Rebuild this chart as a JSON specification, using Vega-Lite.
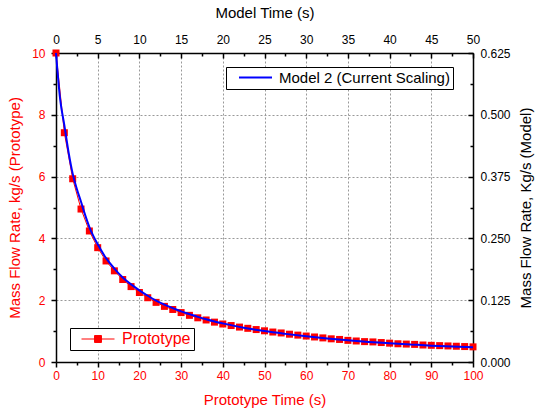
{
  "$schema": "https://vega.github.io/schema/vega-lite/v6.json",
  "width": 417,
  "height": 309,
  "autosize": {"type": "none"},
  "padding": {"left": 56, "top": 53, "right": 63, "bottom": 52},
  "config": {
    "font": "Liberation Sans",
    "view": {"stroke": null},
    "axis": {"labelFlush": false, "labelOverlap": false, "labelFontSize": 12, "titleFontSize": 15, "titleFontWeight": "normal", "domainColor": "#000000", "domainWidth": 1.5, "tickColor": "#000000", "tickWidth": 1.5}
  },
  "datasets": {
    "proto": [
      {"t": 0, "v": 10.0}, {"t": 2, "v": 7.42}, {"t": 4, "v": 5.93}, {"t": 6, "v": 4.95}, {"t": 8, "v": 4.24},
      {"t": 10, "v": 3.70}, {"t": 12, "v": 3.27}, {"t": 14, "v": 2.95}, {"t": 16, "v": 2.67}, {"t": 18, "v": 2.44},
      {"t": 20, "v": 2.25}, {"t": 22, "v": 2.08}, {"t": 24, "v": 1.93}, {"t": 26, "v": 1.80}, {"t": 28, "v": 1.70},
      {"t": 30, "v": 1.60}, {"t": 32, "v": 1.51}, {"t": 34, "v": 1.43}, {"t": 36, "v": 1.36}, {"t": 38, "v": 1.29},
      {"t": 40, "v": 1.23}, {"t": 42, "v": 1.18}, {"t": 44, "v": 1.13}, {"t": 46, "v": 1.09}, {"t": 48, "v": 1.05},
      {"t": 50, "v": 1.01}, {"t": 52, "v": 0.97}, {"t": 54, "v": 0.94}, {"t": 56, "v": 0.90}, {"t": 58, "v": 0.87},
      {"t": 60, "v": 0.84}, {"t": 62, "v": 0.81}, {"t": 64, "v": 0.78}, {"t": 66, "v": 0.75}, {"t": 68, "v": 0.73},
      {"t": 70, "v": 0.70}, {"t": 72, "v": 0.68}, {"t": 74, "v": 0.66}, {"t": 76, "v": 0.65}, {"t": 78, "v": 0.63},
      {"t": 80, "v": 0.61}, {"t": 82, "v": 0.59}, {"t": 84, "v": 0.58}, {"t": 86, "v": 0.57}, {"t": 88, "v": 0.55},
      {"t": 90, "v": 0.54}, {"t": 92, "v": 0.53}, {"t": 94, "v": 0.52}, {"t": 96, "v": 0.51}, {"t": 98, "v": 0.50},
      {"t": 100, "v": 0.49}
    ],
    "model": [
      {"mt": 0, "mv": 0.625}, {"mt": 0.5, "mv": 0.531}, {"mt": 1, "mv": 0.479}, {"mt": 1.5, "mv": 0.425},
      {"mt": 2, "mv": 0.381}, {"mt": 2.5, "mv": 0.350}, {"mt": 3, "mv": 0.324}, {"mt": 3.5, "mv": 0.297},
      {"mt": 4, "mv": 0.273}, {"mt": 4.5, "mv": 0.254}, {"mt": 5, "mv": 0.238}, {"mt": 6, "mv": 0.210},
      {"mt": 7, "mv": 0.189}, {"mt": 8, "mv": 0.171}, {"mt": 9, "mv": 0.157}, {"mt": 10, "mv": 0.145},
      {"mt": 11, "mv": 0.134}, {"mt": 12, "mv": 0.124}, {"mt": 13, "mv": 0.116}, {"mt": 14, "mv": 0.109},
      {"mt": 15, "mv": 0.1025}, {"mt": 16, "mv": 0.0969}, {"mt": 17, "mv": 0.0913}, {"mt": 18, "mv": 0.0863},
      {"mt": 19, "mv": 0.0819}, {"mt": 20, "mv": 0.0781}, {"mt": 22.5, "mv": 0.0694}, {"mt": 25, "mv": 0.0625},
      {"mt": 27.5, "mv": 0.0569}, {"mt": 30, "mv": 0.0519}, {"mt": 32.5, "mv": 0.0475}, {"mt": 35, "mv": 0.0438},
      {"mt": 37.5, "mv": 0.0406}, {"mt": 40, "mv": 0.0381}, {"mt": 42.5, "mv": 0.0356}, {"mt": 45, "mv": 0.0331},
      {"mt": 47.5, "mv": 0.0313}, {"mt": 50, "mv": 0.0300}
    ]
  },
  "layer": [
    {
      "data": {"name": "proto"},
      "encoding": {
        "x": {"field": "t", "type": "quantitative", "scale": {"domain": [0, 100], "nice": false},
          "axis": {"orient": "bottom", "title": "Prototype Time (s)", "titleColor": "#ff0000", "labelColor": "#ff0000", "values": [0,10,20,30,40,50,60,70,80,90,100], "ticks": false, "labelPadding": 8, "titlePadding": 11, "grid": true, "gridColor": "#999999", "gridDash": [2, 2], "gridWidth": 1}},
        "y": {"field": "v", "type": "quantitative", "scale": {"domain": [0, 10], "nice": false},
          "axis": {"orient": "left", "title": "Mass Flow Rate, kg/s (Prototype)", "titleColor": "#ff0000", "labelColor": "#ff0000", "values": [0,2,4,6,8,10], "ticks": false, "labelPadding": 11, "titlePadding": 9, "grid": true, "gridColor": "#999999", "gridDash": [2, 2], "gridWidth": 1}},
        "color": {"datum": "Prototype", "type": "nominal", "scale": {"domain": ["Prototype"], "range": ["#ff0000"]},
          "legend": {"orient": "none", "legendX": 14, "legendY": 275, "title": null, "padding": 3, "strokeColor": "#000000", "fillColor": "#ffffff", "cornerRadius": 0,
            "symbolType": "M-1,0H1M-0.21,-0.21H0.21V0.21H-0.21Z", "symbolSize": 1089, "symbolStrokeWidth": 1, "symbolOffset": 8, "clipHeight": 16,
            "labelFontSize": 16, "labelColor": "#ff0000", "labelOffset": 7, "labelLimit": 300,
            "encode": {"symbols": {"update": {"fill": {"value": "#ff0000"}, "stroke": {"value": "#ff0000"}, "strokeWidth": {"value": 1}, "opacity": {"value": 1}}}}}}
      },
      "layer": [
        {"mark": {"type": "line", "strokeWidth": 1}},
        {"mark": {"type": "point", "shape": "square", "filled": true, "size": 49, "opacity": 1}}
      ]
    },
    {
      "data": {"name": "model"},
      "mark": {"type": "line", "strokeWidth": 2, "interpolate": "monotone"},
      "encoding": {
        "x": {"field": "mt", "type": "quantitative", "scale": {"domain": [0, 50], "nice": false},
          "axis": {"orient": "top", "title": "Model Time (s)", "titleColor": "#000000", "labelColor": "#000000", "values": [0,5,10,15,20,25,30,35,40,45,50], "ticks": false, "labelPadding": 7, "titlePadding": 13, "grid": false}},
        "y": {"field": "mv", "type": "quantitative", "scale": {"domain": [0, 0.625], "nice": false},
          "axis": {"orient": "right", "title": "Mass Flow Rate, Kg/s (Model)", "titleColor": "#000000", "labelColor": "#000000", "values": [0,0.125,0.25,0.375,0.5,0.625], "format": ".3f", "ticks": false, "labelPadding": 7, "titlePadding": 8, "titleAngle": -90, "titleBaseline": "top", "grid": false}},
        "color": {"datum": "Model 2 (Current Scaling)", "type": "nominal", "scale": {"domain": ["Model 2 (Current Scaling)"], "range": ["#0000ff"]},
          "legend": {"orient": "none", "legendX": 170, "legendY": 14, "title": null, "padding": 3, "strokeColor": "#000000", "fillColor": "#ffffff", "cornerRadius": 0,
            "symbolType": "M-1,0H1M12.8,0L12.8,0", "symbolSize": 1089, "symbolStrokeWidth": 2, "symbolOffset": 9, "clipHeight": 15,
            "labelFontSize": 15, "labelColor": "#000000", "labelOffset": 6, "labelLimit": 300,
            "encode": {"symbols": {"update": {"fill": {"value": "transparent"}, "stroke": {"value": "#0000ff"}, "strokeWidth": {"value": 2}, "opacity": {"value": 1}}}}}}
      }
    },
    {
      "data": {"name": "proto"},
      "mark": {"type": "point", "opacity": 0},
      "encoding": {
        "x": {"field": "t", "type": "quantitative", "scale": {"domain": [0, 100], "nice": false},
          "axis": {"orient": "bottom", "title": null, "labels": false, "domain": false, "grid": false, "ticks": true, "values": [0,5,10,15,20,25,30,35,40,45,50,55,60,65,70,75,80,85,90,95,100],
            "tickSize": {"condition": {"test": "datum.value % 10 === 0", "value": 5}, "value": 3}}},
        "y": {"field": "v", "type": "quantitative", "scale": {"domain": [0, 10], "nice": false},
          "axis": {"orient": "left", "title": null, "labels": false, "domain": false, "grid": false, "ticks": true, "values": [0,1,2,3,4,5,6,7,8,9,10],
            "tickSize": {"condition": {"test": "datum.value % 2 === 0", "value": 5}, "value": 3}}}
      }
    },
    {
      "data": {"name": "model"},
      "mark": {"type": "point", "opacity": 0},
      "encoding": {
        "x": {"field": "mt", "type": "quantitative", "scale": {"domain": [0, 50], "nice": false},
          "axis": {"orient": "top", "title": null, "labels": false, "domain": false, "grid": false, "ticks": true, "values": [0,2.5,5,7.5,10,12.5,15,17.5,20,22.5,25,27.5,30,32.5,35,37.5,40,42.5,45,47.5,50],
            "tickSize": {"condition": {"test": "datum.value % 5 === 0", "value": -5}, "value": -3}}},
        "y": {"field": "mv", "type": "quantitative", "scale": {"domain": [0, 0.625], "nice": false},
          "axis": {"orient": "right", "title": null, "labels": false, "domain": false, "grid": false, "ticks": true, "values": [0,0.0625,0.125,0.1875,0.25,0.3125,0.375,0.4375,0.5,0.5625,0.625],
            "tickSize": {"condition": {"test": "datum.value % 0.125 === 0", "value": -5}, "value": -3}}}
      }
    }
  ],
  "resolve": {
    "scale": {"x": "independent", "y": "independent", "color": "independent"},
    "axis": {"x": "independent", "y": "independent"},
    "legend": {"color": "independent"}
  }
}
